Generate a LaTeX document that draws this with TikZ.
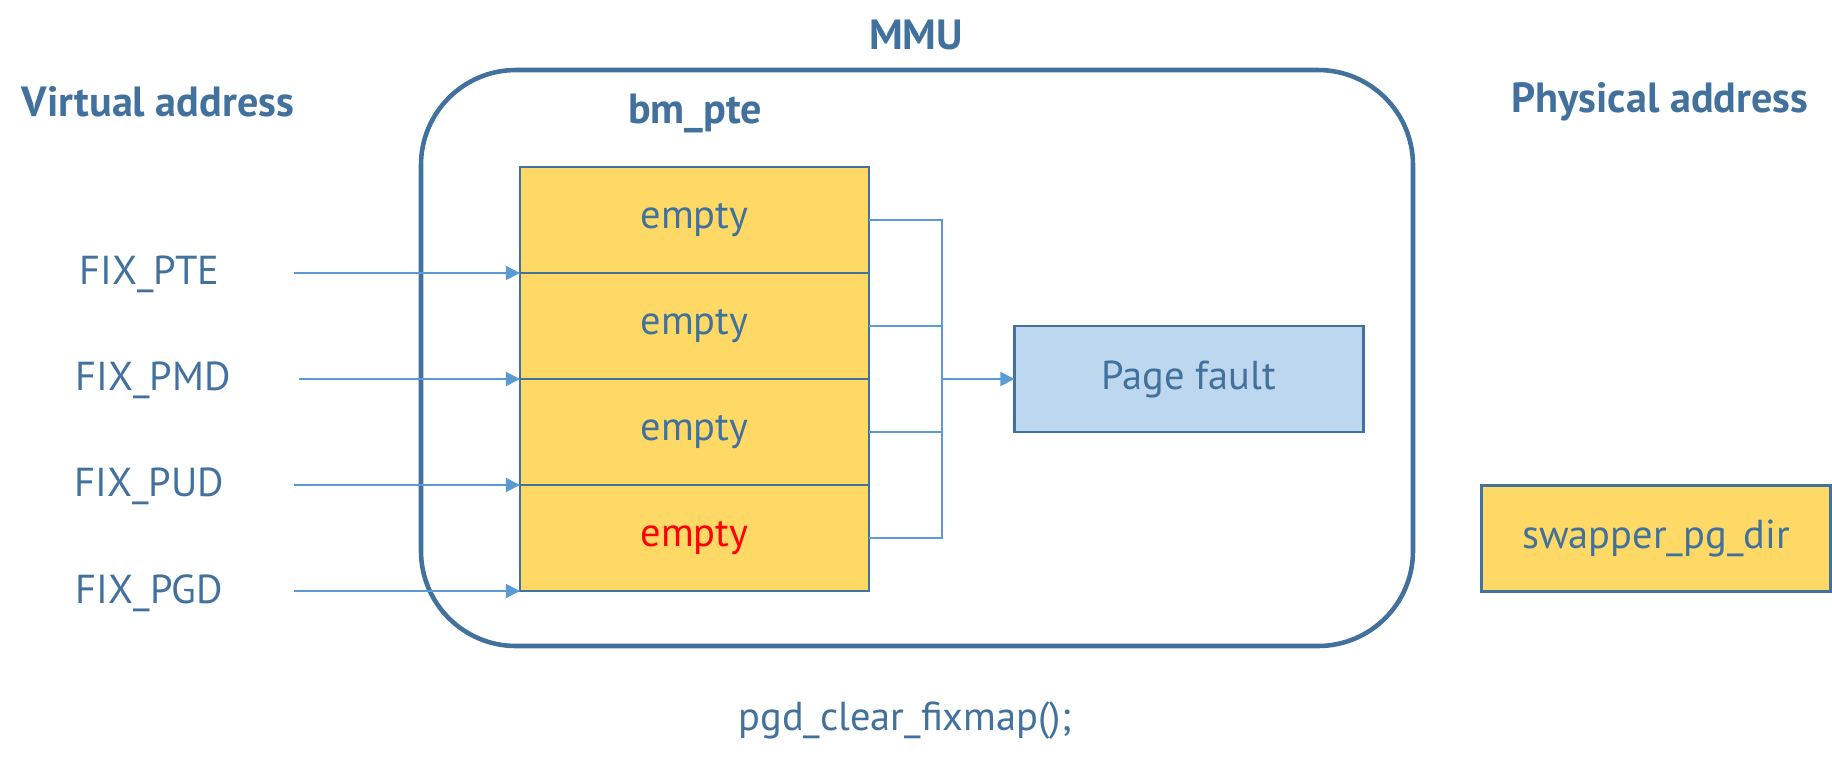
\documentclass[tikz,border=0pt]{standalone}
\usepackage{fontspec}
\setmainfont{PT Sans}
\usetikzlibrary{positioning,arrows.meta}
\definecolor{mmublue}{HTML}{41719C}
\definecolor{linkblue}{HTML}{5B9BD5}
\definecolor{cellyellow}{HTML}{FFD966}
\definecolor{faultblue}{HTML}{BDD7EE}
\tikzset{cell/.style={draw=mmublue,line width=0.75pt,fill=cellyellow,outer sep=0pt,
        minimum width=3.49cm,minimum height=1.06cm,inner sep=0pt,text=mmublue,
        font=\fontsize{11.5}{13}\selectfont},
        fault/.style={cell,fill=faultblue},
        title/.style={text=mmublue,font=\bfseries\fontsize{12}{14}\selectfont},
        vaddr/.style={text=mmublue,font=\fontsize{11.5}{13}\selectfont},
        link/.style={draw=linkblue,line width=0.5pt},
        feed/.style={link,-{Triangle[length=4pt,width=4pt]}}}

\begin{document}
\begin{tikzpicture}
\useasboundingbox (0,0) rectangle (18.32,-7.64);
% MMU box
\node[draw=mmublue,line width=1.3pt,rounded corners=0.95cm,
      minimum width=9.92cm,minimum height=5.76cm] (mmubox) at (9.17,-3.58) {};
\node[title] (mmu) at (9.16,-0.35) {MMU};
\node[title] (virt) at (1.58,-1.02) {Virtual address};
\node[title] (phys) at (16.60,-1.02) {Physical address};
\node[title] (bmpte) at (6.95,-1.13) {bm\_pte};
% table rows
\node[cell,anchor=north west] (e0) at (5.20,-1.67) {empty};
\node[cell,below=0pt of e0] (e1) {empty};
\node[cell,below=0pt of e1] (e2) {empty};
\node[cell,below=0pt of e2,text=red] (e3) {empty};
\node[fault] (fault) at (11.89,-3.79) {Page fault};
\node[cell] (swapper) at (16.56,-5.385) {swapper\_pg\_dir};
% virtual addresses
\node[vaddr] (fixpte) at (1.495,-2.745) {FIX\_PTE};
\node[vaddr] (fixpmd) at (1.53,-3.80) {FIX\_PMD};
\node[vaddr] (fixpud) at (1.495,-4.86) {FIX\_PUD};
\node[vaddr] (fixpgd) at (1.495,-5.93) {FIX\_PGD};
\node[vaddr] (clear) at (9.05,-7.21) {pgd\_clear\_fixmap();};
\coordinate (vstart) at (2.94,0);
\draw[feed] (vstart |- e0.south west) -- (e0.south west);
\draw[feed] ([xshift=0.05cm]vstart |- e1.south west) -- (e1.south west);
\draw[feed] (vstart |- e2.south west) -- (e2.south west);
\draw[feed] (vstart |- e3.south west) -- (e3.south west);
% to page fault
\coordinate[right=0.73cm of e1.south east] (bus);
\draw[link] (e0.east) -| (bus);
\draw[link] (e1.east) -| (bus);
\draw[link] (e2.east) -| (bus);
\draw[link] (e3.east) -| (bus);
\draw[feed] (bus) -- (fault);
\end{tikzpicture}
\end{document}
